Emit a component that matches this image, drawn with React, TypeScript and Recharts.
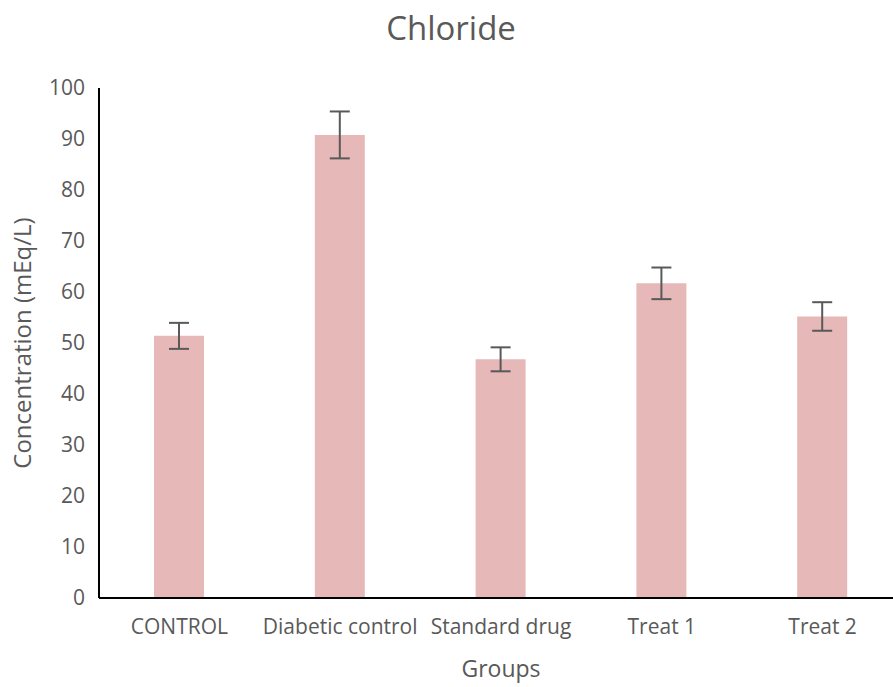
import React from "react";
import { BarChart, Bar, XAxis, YAxis, ErrorBar, Label } from "recharts";

const categories = ["CONTROL", "Diabetic control", "Standard drug", "Treat 1", "Treat 2"];
const values = [51.4, 90.8, 46.8, 61.7, 55.2];
const errors = [2.55, 4.6, 2.35, 3.1, 2.8];
const yTicks = [0, 10, 20, 30, 40, 50, 60, 70, 80, 90, 100];

const data = categories.map((name, i) => ({ name, value: values[i], err: errors[i] }));

const FONT = "'Open Sans', 'Noto Sans', sans-serif";
const GREY = "#595959";

export default function App() {
  return (
    <div style={{ position: "fixed", left: 0, top: 0, width: 893, height: 687, overflow: "hidden", background: "#fff" }}>
      <div
        style={{
          position: "absolute",
          left: 0,
          width: 902,
          top: 6,
          textAlign: "center",
          fontFamily: FONT,
          fontSize: 33,
          color: GREY,
          lineHeight: "44px",
        }}
      >
        Chloride
      </div>
      <BarChart
        width={903}
        height={687}
        data={data}
        margin={{ top: 88, right: 0, bottom: 0, left: 45 }}
        barCategoryGap="34%"
      >
        <XAxis
          dataKey="name"
          height={89}
          axisLine={{ stroke: "#000", strokeWidth: 2 }}
          tickLine={false}
          tick={{ fill: GREY, fontSize: 21, fontFamily: FONT }}
          tickMargin={15}
          interval={0}
        >
          <Label value="Groups" position="insideBottom" offset={10} style={{ fill: GREY, fontSize: 23, fontFamily: FONT }} />
        </XAxis>
        <YAxis
          domain={[0, 100]}
          ticks={yTicks}
          width={54}
          axisLine={{ stroke: "#000", strokeWidth: 2 }}
          tickLine={false}
          tickSize={0}
          tickMargin={14}
          tick={{ fill: GREY, fontSize: 21, fontFamily: FONT }}
        >
          <Label
            value="Concentration (mEq/L)"
            angle={-90}
            position="left"
            offset={23}
            style={{ textAnchor: "middle", fill: GREY, fontSize: 24, fontFamily: FONT }}
          />
        </YAxis>
        <Bar dataKey="value" fill="#E6B8B7" barSize={50} isAnimationActive={false}>
          <ErrorBar dataKey="err" width={10} stroke={GREY} strokeWidth={2} direction="y" />
        </Bar>
      </BarChart>
    </div>
  );
}
